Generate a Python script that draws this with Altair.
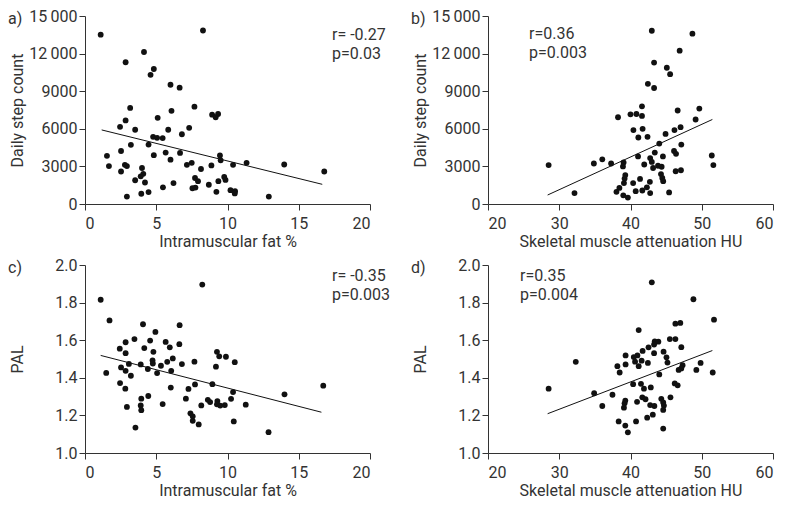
import altair as alt
import pandas as pd

# ---------------- data ----------------
# a) Intramuscular fat % vs daily step count
a_x = [1.10, 4.14, 2.85, 4.83, 4.60, 6.00, 6.64, 3.17, 6.07, 7.68, 5.10, 2.85, 2.46, 3.52,
       5.84, 7.31, 6.80, 4.78, 5.06, 5.45, 3.22, 4.46, 2.53, 5.66, 6.67, 1.54, 4.83, 6.00,
       1.68, 2.80, 2.94, 7.15, 7.49, 4.00, 2.53, 4.09, 3.91, 8.14, 3.52, 4.21, 7.72, 7.93,
       6.21, 5.47, 7.54, 7.75, 3.95, 4.46, 2.94, 8.28, 8.92, 9.34, 9.17, 9.47, 9.52, 8.87,
       10.39, 11.34, 13.98, 16.79, 8.69, 9.36, 9.77, 9.86, 9.22, 10.21, 10.53, 10.51, 12.90]
a_y = [13513, 12128, 11308, 10769, 10308, 9513, 9282, 7667, 7436, 7769, 6872, 6667, 6154, 5923,
       5923, 6077, 5564, 5359, 5282, 5256, 4718, 4744, 4231, 4103, 4077, 3846, 3897, 3538,
       3026, 3128, 3026, 3128, 3282, 2872, 2590, 2410, 2205, 2795, 1897, 1718, 2077, 1820,
       1667, 1333, 1256, 1308, 821, 949, 590, 13846, 7128, 7179, 6923, 3872, 3487, 3077,
       3128, 3282, 3154, 2590, 1538, 1820, 2154, 1923, 974, 1103, 1026, 846, 590]
a_line_x = [1.17, 16.65]
a_line_y = [5910, 1570]

# b) Skeletal muscle attenuation HU vs daily step count
b_x = [28.51, 32.14, 34.86, 42.99, 48.69, 46.90, 43.31, 45.10, 45.56, 42.44, 43.31, 41.61,
       40.00, 40.83, 41.61, 38.25, 46.62, 49.66, 49.14, 40.41, 41.70, 46.17, 47.03, 44.92,
       41.10, 42.39, 44.04, 47.13, 43.41, 46.11, 46.39, 41.06, 42.76, 42.99, 44.55, 51.41,
       51.63, 36.04, 37.28, 39.03, 38.94, 41.93, 43.17, 43.86, 44.37, 44.28, 44.46, 44.59,
       46.34, 47.08, 39.27, 39.17, 39.08, 40.37, 41.34, 42.72, 38.44, 38.03, 38.99, 39.63,
       40.73, 41.66, 42.30, 42.76, 45.42]
b_y = [3103, 872, 3231, 13821, 13590, 12231, 11282, 10872, 10359, 9590, 9256, 7795,
       7154, 7179, 7026, 6923, 7462, 7615, 6744, 5897, 6000, 5897, 6128, 5590,
       5308, 5359, 4821, 4744, 4103, 4231, 4000, 3795, 3667, 3359, 3795, 3872,
       3103, 3564, 3231, 3308, 3000, 3154, 2872, 3051, 2974, 2385, 2077, 1821,
       2615, 2692, 2308, 2026, 1667, 1667, 2000, 1769, 1282, 974, 692, 513,
       1026, 1077, 1333, 872, 923]
b_line_x = [28.37, 51.49]
b_line_y = [718, 6744]

# c) Intramuscular fat % vs PAL
c_x = [1.10, 1.72, 1.49, 8.23, 2.44, 2.85, 2.85, 3.47, 4.07, 4.94, 4.57, 4.16, 4.80, 2.53,
       2.85, 3.08, 3.22, 3.91, 4.41, 4.74, 4.76, 5.06, 5.33, 5.66, 5.95, 6.16, 5.77, 6.05,
       6.62, 6.64, 6.80, 7.68, 2.46, 2.83, 2.94, 3.95, 3.91, 3.95, 4.44, 5.45, 6.02, 7.26,
       7.08, 7.72, 7.40, 7.56, 7.56, 7.98, 3.54, 8.16, 9.26, 9.42, 9.89, 10.51, 9.19, 8.94,
       10.39, 14.00, 16.72, 8.62, 8.78, 9.29, 9.26, 9.49, 9.81, 10.25, 11.28, 10.44, 12.88]
c_y = [1.815, 1.705, 1.426, 1.896, 1.555, 1.589, 1.531, 1.606, 1.685, 1.644, 1.598, 1.558,
       1.538, 1.455, 1.437, 1.474, 1.411, 1.471, 1.447, 1.493, 1.476, 1.425, 1.464, 1.591,
       1.562, 1.503, 1.485, 1.437, 1.579, 1.680, 1.473, 1.486, 1.372, 1.342, 1.245, 1.289,
       1.253, 1.228, 1.303, 1.260, 1.348, 1.341, 1.289, 1.365, 1.211, 1.195, 1.171, 1.152,
       1.135, 1.253, 1.538, 1.514, 1.512, 1.483, 1.459, 1.366, 1.324, 1.312, 1.358, 1.283,
       1.271, 1.276, 1.259, 1.252, 1.255, 1.288, 1.257, 1.168, 1.111]
c_line_x = [1.10, 16.59]
c_line_y = [1.519, 1.217]

# d) Skeletal muscle attenuation HU vs PAL
d_x = [28.51, 32.32, 34.90, 42.99, 48.83, 51.72, 41.15, 46.30, 46.99, 45.52, 46.30, 43.40,
       43.91, 43.31, 42.53, 41.70, 40.97, 40.46, 39.31, 43.31, 44.64, 45.05, 45.19, 47.13,
       40.64, 41.56, 42.44, 41.15, 39.31, 38.16, 38.48, 47.31, 47.13, 46.76, 49.24, 49.84,
       51.54, 44.04, 40.37, 41.47, 41.89, 42.85, 46.21, 46.62, 37.47, 36.04, 39.27, 39.17,
       39.08, 40.92, 41.66, 42.11, 42.76, 43.35, 43.13, 42.34, 44.32, 44.59, 44.69, 44.59,
       45.61, 38.34, 39.27, 39.63, 40.78, 44.59]
d_y = [1.342, 1.485, 1.318, 1.908, 1.818, 1.709, 1.654, 1.688, 1.692, 1.606, 1.606, 1.594,
       1.592, 1.577, 1.562, 1.543, 1.519, 1.510, 1.519, 1.531, 1.539, 1.509, 1.481, 1.563,
       1.486, 1.491, 1.479, 1.462, 1.471, 1.462, 1.428, 1.467, 1.450, 1.442, 1.442, 1.479,
       1.428, 1.418, 1.366, 1.368, 1.342, 1.349, 1.370, 1.360, 1.310, 1.250, 1.279, 1.264,
       1.241, 1.272, 1.296, 1.286, 1.255, 1.250, 1.204, 1.188, 1.288, 1.269, 1.252, 1.229,
       1.296, 1.168, 1.146, 1.110, 1.168, 1.130]
d_line_x = [28.37, 51.49]
d_line_y = [1.209, 1.545]

# axis and text content
fat_ticks = [0, 5, 10, 15, 20]
hu_ticks = [20, 30, 40, 50, 60]
step_ticks = [0, 3000, 6000, 9000, 12000, 15000]
pal_ticks = [1.0, 1.2, 1.4, 1.6, 1.8, 2.0]
fat_title = "Intramuscular fat %"
hu_title = "Skeletal muscle attenuation HU"
step_title = "Daily step count"
pal_title = "PAL"
panel_letters = ["a)", "b)", "c)", "d)"]
r_texts = ["r= -0.27", "r=0.36", "r= -0.35", "r=0.35"]
p_texts = ["p=0.03", "p=0.003", "p=0.003", "p=0.004"]

# ---------------- layout / style ----------------
W, H = 285, 188
FONT = "Roboto"
TXT = "#333333"
FS = 16

step_expr = ("datum.value >= 10000 ? replace(format(datum.value, ','), ',', '\u2009') "
             ": format(datum.value, 'd')")


def panel(px, py, lx, ly, xdom, xticks, xtitle, ydom, yticks, ytitle, yexpr,
          letter, rt, pt, rpos, ppos):
    pts = pd.DataFrame({"x": px, "y": py})
    ln = pd.DataFrame({"x": lx, "y": ly})
    xenc = alt.X("x:Q", scale=alt.Scale(domain=xdom, nice=False, zero=False),
                 axis=alt.Axis(values=xticks, title=xtitle, format="d",
                               labelPadding=5, titleY=37, titleBaseline="middle",
                               labelOverlap=False))
    yaxis = dict(values=yticks, title=ytitle, titleX=-68, titleBaseline="middle",
                 labelPadding=2, labelOverlap=False, labelBound=False)
    if yexpr:
        yaxis["labelExpr"] = yexpr
    else:
        yaxis["format"] = ".1f"
    yenc = alt.Y("y:Q", scale=alt.Scale(domain=ydom, nice=False, zero=False),
                 axis=alt.Axis(**yaxis))
    dots = alt.Chart(pts).mark_circle(size=34, color="#111111", opacity=1).encode(x=xenc, y=yenc)
    line = alt.Chart(ln).mark_line(color="#111111", strokeWidth=1).encode(x=xenc, y=yenc)

    def txt(s, xpos, ypos):
        return alt.Chart(pd.DataFrame({"t": [s]})).mark_text(
            align="left", baseline="middle", font=FONT, fontSize=FS, color=TXT
        ).encode(text="t:N", x=alt.value(xpos), y=alt.value(ypos))

    return alt.layer(
        dots, line,
        txt(letter, -77, 3),
        txt(rt, rpos[0], rpos[1]),
        txt(pt, ppos[0], ppos[1]),
    ).properties(width=W, height=H)


pa = panel(a_x, a_y, a_line_x, a_line_y, [0, 20], fat_ticks, fat_title,
           [0, 15000], step_ticks, step_title, step_expr,
           panel_letters[0], r_texts[0], p_texts[0], (247, 19), (247, 38))
pb = panel(b_x, b_y, b_line_x, b_line_y, [20, 60], hu_ticks, hu_title,
           [0, 15000], step_ticks, step_title, step_expr,
           panel_letters[1], r_texts[1], p_texts[1], (41, 18), (41, 37))
pc = panel(c_x, c_y, c_line_x, c_line_y, [0, 20], fat_ticks, fat_title,
           [1, 2], pal_ticks, pal_title, None,
           panel_letters[2], r_texts[2], p_texts[2], (247, 11), (247, 30))
pd_ = panel(d_x, d_y, d_line_x, d_line_y, [20, 60], hu_ticks, hu_title,
            [1, 2], pal_ticks, pal_title, None,
            panel_letters[3], r_texts[3], p_texts[3], (32, 11), (32, 30))

chart = alt.concat(pa, pb, pc, pd_, columns=2, spacing={"row": 61, "column": 118},
                   bounds="flush").properties(padding=0).configure_view(
    stroke=None
).configure_axis(
    grid=False, domainColor=TXT, tickColor=TXT, tickSize=6, domainWidth=1, tickWidth=1,
    labelFont=FONT, titleFont=FONT, labelFontSize=FS, titleFontSize=FS,
    labelColor=TXT, titleColor=TXT, titleFontWeight="normal", labelOverlap=False,
)

chart.save("out.html", embed_options={"renderer": "svg", "actions": False})
